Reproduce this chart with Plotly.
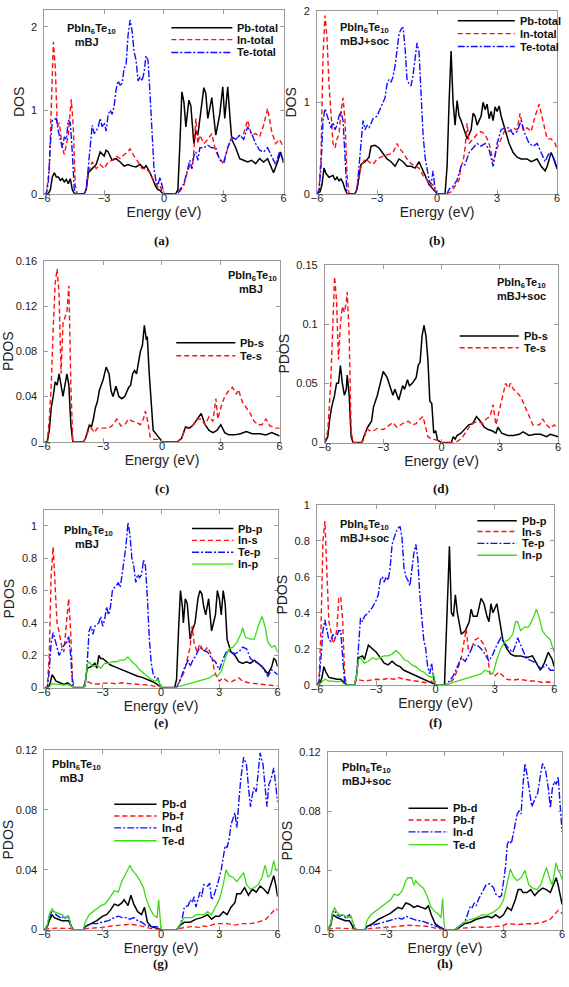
import plotly.graph_objects as go

W, H = 569, 987

# ---------------- data: (energy eV, DOS) pairs ----------------
# (a) mBJ total DOS
a_pb = [(-6,0),(-5.8,0),(-5.7,0.05),(-5.6,0.2),(-5.5,0.25),(-5.4,0.2),(-5.3,0.2),(-5.2,0.16),(-5.1,0.18),(-5.0,0.14),(-4.9,0.17),(-4.8,0.12),(-4.7,0.18),(-4.6,0.05),(-4.5,0),(-4.0,0),(-3.9,0.05),(-3.8,0.25),(-3.6,0.3),(-3.4,0.35),(-3.2,0.5),(-3.0,0.45),(-2.9,0.52),(-2.8,0.5),(-2.6,0.4),(-2.4,0.42),(-2.2,0.38),(-2.0,0.33),(-1.8,0.35),(-1.6,0.33),(-1.4,0.32),(-1.2,0.35),(-1.0,0.3),(-0.9,0.34),(-0.7,0.25),(-0.5,0.12),(-0.4,0.08),(-0.3,0.05),(-0.2,0.04),(-0.1,0.01),(0,0),(0.6,0),(0.7,0.05),(0.8,0.6),(0.9,1.22),(1.0,1.1),(1.1,0.8),(1.25,1.12),(1.35,1.05),(1.5,0.6),(1.6,0.75),(1.7,0.7),(1.9,1.05),(2.0,1.27),(2.1,1.2),(2.2,0.9),(2.4,1.15),(2.5,0.95),(2.6,0.7),(2.8,0.95),(2.95,1.28),(3.05,0.9),(3.2,1.28),(3.3,0.95),(3.4,0.65),(3.6,0.55),(3.8,0.42),(4.0,0.4),(4.2,0.38),(4.4,0.4),(4.6,0.36),(4.8,0.42),(5.0,0.38),(5.2,0.42),(5.4,0.3),(5.5,0.25),(5.7,0.38),(5.85,0.5),(6.0,0.37)]
a_in = [(-6,0),(-5.9,0),(-5.75,0.3),(-5.65,1.0),(-5.55,1.82),(-5.45,1.5),(-5.35,0.8),(-5.25,0.85),(-5.1,0.55),(-5.0,0.47),(-4.9,0.6),(-4.8,0.7),(-4.7,1.0),(-4.65,1.13),(-4.55,0.8),(-4.45,0.1),(-4.35,0),(-4.0,0),(-3.9,0.05),(-3.8,0.25),(-3.6,0.38),(-3.4,0.3),(-3.2,0.35),(-3.0,0.3),(-2.8,0.38),(-2.6,0.4),(-2.4,0.45),(-2.2,0.42),(-2.0,0.47),(-1.8,0.5),(-1.7,0.54),(-1.5,0.45),(-1.3,0.38),(-1.1,0.3),(-0.9,0.3),(-0.7,0.25),(-0.5,0.15),(-0.4,0.12),(-0.3,0.08),(-0.2,0.1),(-0.1,0.03),(0,0),(0.6,0),(0.8,0.03),(1.0,0.1),(1.1,0.2),(1.3,0.35),(1.4,0.3),(1.5,0.5),(1.6,0.9),(1.7,0.6),(1.8,0.7),(2.0,0.6),(2.2,0.65),(2.4,0.72),(2.6,0.5),(2.8,0.42),(3.0,0.35),(3.2,0.55),(3.4,0.67),(3.6,0.65),(3.8,0.7),(4.0,0.72),(4.2,0.88),(4.4,0.7),(4.6,0.72),(4.8,0.68),(5.0,0.82),(5.2,1.02),(5.4,0.75),(5.6,0.6),(5.8,0.65),(6.0,0.55)]
a_te = [(-6,0),(-5.9,0),(-5.8,0.15),(-5.7,0.6),(-5.6,0.88),(-5.4,0.9),(-5.3,0.75),(-5.1,0.55),(-5.0,0.68),(-4.9,0.65),(-4.8,0.88),(-4.7,0.85),(-4.6,0.5),(-4.5,0.05),(-4.4,0),(-4.0,0),(-3.9,0.05),(-3.8,0.3),(-3.7,0.6),(-3.6,0.82),(-3.5,0.72),(-3.4,0.75),(-3.3,0.8),(-3.2,0.9),(-3.1,0.8),(-3.0,0.85),(-2.9,0.75),(-2.8,0.95),(-2.7,1.0),(-2.6,0.95),(-2.5,1.05),(-2.4,1.25),(-2.3,1.35),(-2.2,1.3),(-2.1,1.32),(-2.0,1.5),(-1.9,1.55),(-1.8,1.9),(-1.7,2.08),(-1.6,1.95),(-1.5,1.7),(-1.4,1.6),(-1.3,1.35),(-1.2,1.4),(-1.1,1.35),(-1.0,1.45),(-0.9,1.65),(-0.8,1.6),(-0.7,1.2),(-0.6,0.65),(-0.5,0.3),(-0.4,0.15),(-0.3,0.1),(-0.2,0.2),(-0.1,0.08),(0,0),(0.7,0),(0.8,0.05),(1.0,0.12),(1.2,0.3),(1.3,0.4),(1.4,0.3),(1.5,0.45),(1.6,0.5),(1.7,0.4),(1.8,0.55),(2.0,0.55),(2.2,0.58),(2.4,0.55),(2.6,0.55),(2.8,0.4),(3.0,0.38),(3.2,0.55),(3.4,0.68),(3.6,0.65),(3.8,0.7),(4.0,0.65),(4.2,0.8),(4.4,0.72),(4.6,0.6),(4.8,0.52),(5.0,0.5),(5.2,0.55),(5.4,0.45),(5.6,0.35),(5.8,0.5),(6.0,0.4)]

# (b) mBJ+soc total DOS
b_pb = [(-6,0),(-5.85,0.02),(-5.75,0.1),(-5.65,0.28),(-5.55,0.22),(-5.4,0.18),(-5.2,0.2),(-5.1,0.15),(-5.0,0.18),(-4.9,0.14),(-4.8,0.16),(-4.7,0.12),(-4.6,0.05),(-4.5,0),(-4.1,0),(-4.0,0.05),(-3.8,0.32),(-3.6,0.35),(-3.4,0.4),(-3.3,0.52),(-3.1,0.53),(-2.9,0.5),(-2.7,0.44),(-2.5,0.38),(-2.3,0.35),(-2.1,0.3),(-1.9,0.38),(-1.7,0.35),(-1.5,0.3),(-1.3,0.3),(-1.1,0.28),(-0.9,0.35),(-0.8,0.3),(-0.6,0.2),(-0.4,0.1),(-0.2,0.05),(0,0),(0.4,0),(0.5,0.3),(0.6,1.0),(0.7,1.56),(0.8,1.0),(0.9,0.75),(1.0,1.02),(1.1,0.85),(1.2,0.8),(1.4,0.65),(1.5,0.6),(1.7,0.7),(1.8,0.88),(1.9,0.85),(2.0,0.75),(2.2,0.85),(2.3,1.0),(2.4,0.92),(2.5,0.98),(2.6,0.82),(2.7,0.9),(2.8,0.8),(2.9,0.95),(3.0,0.9),(3.1,0.96),(3.2,0.85),(3.4,0.7),(3.6,0.55),(3.8,0.45),(4.0,0.4),(4.2,0.38),(4.5,0.38),(4.7,0.35),(5.0,0.38),(5.2,0.3),(5.4,0.25),(5.5,0.3),(5.7,0.45),(5.8,0.4),(6.0,0.27)]
b_in = [(-6,0),(-5.9,0.05),(-5.8,0.4),(-5.7,1.5),(-5.6,1.95),(-5.5,1.7),(-5.4,1.2),(-5.3,0.8),(-5.2,0.55),(-5.1,0.5),(-5.0,0.6),(-4.9,0.65),(-4.8,0.9),(-4.7,1.05),(-4.6,0.8),(-4.5,0.2),(-4.4,0),(-4.1,0),(-4.0,0.05),(-3.8,0.3),(-3.6,0.38),(-3.4,0.35),(-3.2,0.32),(-3.0,0.38),(-2.8,0.4),(-2.6,0.42),(-2.4,0.43),(-2.2,0.45),(-2.0,0.55),(-1.9,0.5),(-1.7,0.45),(-1.5,0.38),(-1.3,0.33),(-1.1,0.3),(-0.9,0.28),(-0.7,0.2),(-0.5,0.15),(-0.3,0.08),(-0.2,0.1),(-0.1,0.03),(0,0),(0.5,0),(0.7,0.02),(0.9,0.08),(1.1,0.15),(1.2,0.3),(1.3,0.35),(1.4,0.5),(1.5,0.77),(1.6,0.55),(1.8,0.6),(2.0,0.65),(2.2,0.68),(2.4,0.65),(2.6,0.55),(2.8,0.35),(3.0,0.5),(3.2,0.6),(3.4,0.7),(3.6,0.68),(3.8,0.72),(4.0,0.7),(4.15,0.88),(4.3,0.7),(4.5,0.72),(4.7,0.68),(4.9,0.85),(5.1,0.98),(5.3,0.8),(5.5,0.6),(5.7,0.6),(5.9,0.55),(6.0,0.48)]
b_te = [(-6,0),(-5.9,0.02),(-5.8,0.3),(-5.7,0.8),(-5.6,0.93),(-5.5,0.85),(-5.3,0.72),(-5.2,0.78),(-5.1,0.7),(-5.0,0.75),(-4.9,0.85),(-4.8,0.9),(-4.7,0.8),(-4.6,0.4),(-4.5,0),(-4.1,0),(-4.0,0.05),(-3.9,0.3),(-3.8,0.6),(-3.7,0.8),(-3.6,0.7),(-3.5,0.75),(-3.4,0.72),(-3.2,0.82),(-3.0,0.85),(-2.8,0.95),(-2.6,1.05),(-2.5,1.2),(-2.4,1.25),(-2.3,1.22),(-2.2,1.28),(-2.1,1.4),(-2.0,1.6),(-1.9,1.75),(-1.8,1.8),(-1.7,1.82),(-1.6,1.6),(-1.5,1.25),(-1.4,1.2),(-1.3,1.18),(-1.2,1.3),(-1.1,1.45),(-1.0,1.65),(-0.9,1.55),(-0.8,1.1),(-0.7,0.65),(-0.6,0.4),(-0.5,0.25),(-0.4,0.15),(-0.3,0.1),(-0.2,0.25),(-0.1,0.05),(0,0),(0.5,0),(0.6,0.05),(0.8,0.08),(1.0,0.15),(1.2,0.3),(1.4,0.32),(1.6,0.45),(1.8,0.5),(2.0,0.55),(2.2,0.52),(2.4,0.55),(2.6,0.48),(2.8,0.3),(3.0,0.55),(3.2,0.7),(3.4,0.72),(3.6,0.72),(3.8,0.65),(4.0,0.68),(4.2,0.8),(4.4,0.65),(4.6,0.55),(4.8,0.52),(5.0,0.55),(5.2,0.45),(5.4,0.35),(5.6,0.45),(5.8,0.4),(6.0,0.3)]

# (c) mBJ s-PDOS
c_pbs = [(-6,0),(-5.85,0),(-5.75,0.01),(-5.65,0.03),(-5.55,0.04),(-5.45,0.053),(-5.35,0.05),(-5.25,0.06),(-5.15,0.05),(-5.05,0.04),(-4.95,0.05),(-4.85,0.06),(-4.75,0.05),(-4.65,0.015),(-4.55,0),(-4.0,0),(-3.9,0.003),(-3.8,0.01),(-3.7,0.015),(-3.6,0.013),(-3.5,0.02),(-3.4,0.03),(-3.3,0.035),(-3.2,0.045),(-3.0,0.055),(-2.85,0.066),(-2.7,0.06),(-2.6,0.045),(-2.5,0.04),(-2.35,0.049),(-2.2,0.04),(-2.05,0.038),(-1.9,0.04),(-1.7,0.048),(-1.6,0.05),(-1.5,0.06),(-1.4,0.063),(-1.3,0.06),(-1.2,0.07),(-1.1,0.08),(-1.0,0.085),(-0.9,0.103),(-0.8,0.09),(-0.75,0.093),(-0.65,0.06),(-0.55,0.035),(-0.45,0.01),(-0.35,0.008),(-0.2,0.005),(0,0),(0.8,0),(1.0,0.003),(1.2,0.013),(1.4,0.012),(1.6,0.015),(1.8,0.02),(2.0,0.025),(2.2,0.015),(2.4,0.01),(2.6,0.008),(2.8,0.01),(3.0,0.015),(3.2,0.008),(3.4,0.006),(3.7,0.006),(4.0,0.007),(4.3,0.009),(4.6,0.007),(5.0,0.007),(5.3,0.006),(5.6,0.008),(6.0,0.005)]
c_tes = [(-6,0),(-5.85,0),(-5.75,0.02),(-5.65,0.05),(-5.55,0.1),(-5.45,0.14),(-5.35,0.153),(-5.25,0.13),(-5.15,0.06),(-5.05,0.105),(-4.95,0.11),(-4.85,0.115),(-4.75,0.138),(-4.65,0.05),(-4.55,0),(-4.0,0),(-3.9,0.003),(-3.75,0.01),(-3.6,0.012),(-3.45,0.008),(-3.3,0.012),(-3.0,0.012),(-2.7,0.012),(-2.5,0.015),(-2.3,0.02),(-2.1,0.014),(-1.9,0.015),(-1.7,0.02),(-1.5,0.018),(-1.3,0.017),(-1.1,0.015),(-0.95,0.02),(-0.85,0.027),(-0.75,0.02),(-0.6,0.004),(-0.4,0.002),(-0.2,0.002),(0,0),(0.8,0),(1.0,0.003),(1.2,0.012),(1.4,0.012),(1.6,0.015),(1.8,0.02),(2.0,0.02),(2.2,0.015),(2.4,0.022),(2.6,0.018),(2.75,0.038),(2.85,0.02),(3.0,0.03),(3.2,0.04),(3.4,0.045),(3.6,0.048),(3.8,0.042),(3.9,0.046),(4.1,0.035),(4.3,0.03),(4.5,0.025),(4.7,0.018),(4.9,0.015),(5.1,0.015),(5.3,0.02),(5.5,0.014),(5.8,0.012),(6.0,0.012)]

# (d) mBJ+soc s-PDOS
d_pbs = [(-6,0),(-5.85,0.005),(-5.75,0.02),(-5.65,0.03),(-5.5,0.04),(-5.4,0.05),(-5.3,0.05),(-5.2,0.065),(-5.1,0.05),(-5.0,0.04),(-4.9,0.045),(-4.85,0.057),(-4.75,0.04),(-4.65,0.005),(-4.55,0),(-4.1,0),(-4.0,0.005),(-3.8,0.013),(-3.6,0.018),(-3.5,0.03),(-3.3,0.04),(-3.1,0.055),(-3.0,0.06),(-2.8,0.055),(-2.6,0.045),(-2.5,0.04),(-2.4,0.045),(-2.2,0.036),(-2.0,0.048),(-1.9,0.045),(-1.75,0.053),(-1.65,0.048),(-1.5,0.05),(-1.3,0.055),(-1.2,0.065),(-1.1,0.068),(-1.0,0.09),(-0.9,0.099),(-0.8,0.09),(-0.7,0.07),(-0.6,0.035),(-0.5,0.033),(-0.4,0.008),(-0.3,0.01),(-0.2,0.002),(0,0),(0.5,0),(0.6,0.005),(0.7,0.003),(0.8,0.006),(1.0,0.008),(1.2,0.012),(1.4,0.015),(1.6,0.016),(1.8,0.022),(2.0,0.018),(2.2,0.013),(2.4,0.011),(2.6,0.01),(2.8,0.008),(2.9,0.013),(3.1,0.008),(3.4,0.006),(3.7,0.006),(4.0,0.007),(4.2,0.009),(4.5,0.006),(4.8,0.007),(5.1,0.007),(5.4,0.005),(5.6,0.007),(6.0,0.005)]
d_tes = [(-6,0),(-5.85,0.01),(-5.7,0.05),(-5.6,0.1),(-5.5,0.14),(-5.4,0.12),(-5.3,0.07),(-5.2,0.1),(-5.1,0.115),(-5.0,0.11),(-4.9,0.118),(-4.85,0.127),(-4.75,0.09),(-4.65,0.01),(-4.55,0),(-4.1,0),(-4.0,0.003),(-3.85,0.012),(-3.7,0.01),(-3.5,0.01),(-3.3,0.012),(-3.0,0.011),(-2.7,0.015),(-2.5,0.017),(-2.3,0.013),(-2.1,0.015),(-1.9,0.017),(-1.7,0.018),(-1.5,0.015),(-1.3,0.016),(-1.1,0.02),(-0.95,0.022),(-0.85,0.015),(-0.7,0.005),(-0.5,0.003),(-0.2,0.002),(0,0),(0.7,0),(0.9,0.002),(1.1,0.005),(1.3,0.01),(1.5,0.015),(1.7,0.017),(1.9,0.018),(2.1,0.016),(2.3,0.02),(2.5,0.022),(2.65,0.032),(2.8,0.015),(3.0,0.03),(3.2,0.045),(3.3,0.05),(3.45,0.046),(3.55,0.05),(3.7,0.045),(3.9,0.042),(4.1,0.038),(4.3,0.03),(4.5,0.022),(4.7,0.015),(4.9,0.015),(5.05,0.015),(5.2,0.02),(5.4,0.015),(5.6,0.012),(5.8,0.015),(6.0,0.012)]

# (e) mBJ p-PDOS
e_pbp = [(-6,0),(-5.8,0),(-5.7,0.03),(-5.6,0.08),(-5.5,0.06),(-5.4,0.04),(-5.2,0.03),(-5.0,0.02),(-4.8,0.03),(-4.7,0.02),(-4.6,0.005),(-4.5,0),(-4.0,0),(-3.9,0.03),(-3.8,0.12),(-3.6,0.13),(-3.4,0.15),(-3.3,0.12),(-3.2,0.2),(-3.1,0.18),(-3.0,0.18),(-2.8,0.16),(-2.6,0.14),(-2.4,0.13),(-2.2,0.12),(-2.0,0.11),(-1.8,0.1),(-1.6,0.09),(-1.4,0.08),(-1.2,0.07),(-1.0,0.065),(-0.8,0.055),(-0.6,0.05),(-0.4,0.035),(-0.2,0.02),(-0.1,0.01),(0,0),(0.7,0),(0.8,0.05),(0.9,0.35),(1.0,0.6),(1.1,0.5),(1.15,0.4),(1.25,0.55),(1.35,0.52),(1.5,0.3),(1.6,0.35),(1.75,0.4),(1.9,0.55),(2.0,0.6),(2.1,0.58),(2.2,0.5),(2.3,0.45),(2.45,0.55),(2.6,0.35),(2.7,0.4),(2.8,0.45),(2.9,0.6),(3.0,0.55),(3.1,0.45),(3.2,0.6),(3.3,0.52),(3.4,0.3),(3.6,0.22),(3.8,0.2),(4.0,0.16),(4.2,0.15),(4.4,0.16),(4.6,0.15),(4.8,0.17),(5.0,0.15),(5.2,0.13),(5.4,0.1),(5.5,0.085),(5.7,0.13),(5.8,0.18),(5.9,0.17),(6.0,0.13)]
e_ins = [(-6,0),(-5.85,0),(-5.75,0.2),(-5.65,0.7),(-5.55,0.87),(-5.45,0.6),(-5.35,0.4),(-5.25,0.35),(-5.1,0.25),(-5.0,0.22),(-4.9,0.35),(-4.8,0.48),(-4.75,0.55),(-4.65,0.35),(-4.55,0.05),(-4.45,0),(-4.0,0),(-3.9,0.01),(-3.75,0.035),(-3.5,0.022),(-3.2,0.022),(-3.0,0.028),(-2.6,0.028),(-2.3,0.023),(-2.0,0.03),(-1.7,0.025),(-1.3,0.022),(-1.0,0.02),(-0.6,0.015),(-0.3,0.008),(-0.15,0.015),(0,0),(0.8,0),(1.0,0.05),(1.2,0.1),(1.3,0.15),(1.4,0.2),(1.5,0.25),(1.6,0.38),(1.7,0.28),(1.85,0.22),(2.0,0.27),(2.2,0.22),(2.4,0.25),(2.6,0.2),(2.75,0.1),(2.9,0.06),(3.0,0.04),(3.2,0.06),(3.4,0.04),(3.6,0.035),(3.8,0.05),(4.0,0.06),(4.2,0.04),(4.5,0.03),(4.8,0.025),(5.1,0.022),(5.4,0.015),(5.7,0.012),(6.0,0.01)]
e_tep = [(-6,0),(-5.85,0),(-5.75,0.1),(-5.65,0.28),(-5.55,0.34),(-5.45,0.3),(-5.35,0.25),(-5.25,0.2),(-5.15,0.22),(-5.05,0.25),(-4.95,0.27),(-4.85,0.28),(-4.75,0.32),(-4.65,0.2),(-4.55,0.02),(-4.45,0),(-4.0,0),(-3.9,0.02),(-3.8,0.15),(-3.7,0.35),(-3.6,0.38),(-3.5,0.33),(-3.4,0.38),(-3.2,0.4),(-3.1,0.44),(-3.0,0.38),(-2.9,0.42),(-2.8,0.5),(-2.7,0.45),(-2.6,0.5),(-2.5,0.6),(-2.4,0.62),(-2.3,0.63),(-2.2,0.65),(-2.1,0.62),(-2.0,0.7),(-1.9,0.8),(-1.8,0.88),(-1.7,1.02),(-1.6,0.95),(-1.5,0.8),(-1.4,0.75),(-1.3,0.65),(-1.2,0.7),(-1.1,0.68),(-1.0,0.7),(-0.9,0.79),(-0.8,0.75),(-0.7,0.55),(-0.6,0.3),(-0.5,0.15),(-0.4,0.08),(-0.3,0.06),(-0.2,0.05),(-0.15,0.06),(-0.1,0.03),(0,0),(0.8,0),(1.0,0.05),(1.2,0.12),(1.4,0.17),(1.5,0.13),(1.6,0.16),(1.8,0.2),(2.0,0.25),(2.2,0.23),(2.4,0.22),(2.6,0.18),(2.8,0.16),(3.0,0.11),(3.2,0.18),(3.4,0.23),(3.6,0.22),(3.8,0.21),(4.0,0.22),(4.2,0.25),(4.4,0.24),(4.6,0.18),(4.8,0.16),(5.0,0.15),(5.2,0.13),(5.4,0.09),(5.5,0.07),(5.7,0.11),(5.9,0.09),(6.0,0.08)]
e_inp = [(-6,0),(-5.8,0),(-5.7,0.01),(-5.6,0.025),(-5.4,0.02),(-5.2,0.02),(-5.0,0.015),(-4.8,0.02),(-4.7,0.015),(-4.6,0.005),(-4.5,0),(-4.0,0),(-3.9,0.02),(-3.8,0.14),(-3.7,0.16),(-3.5,0.13),(-3.3,0.14),(-3.1,0.12),(-2.9,0.15),(-2.7,0.15),(-2.5,0.16),(-2.3,0.16),(-2.1,0.17),(-1.9,0.17),(-1.7,0.19),(-1.5,0.16),(-1.3,0.14),(-1.1,0.11),(-0.9,0.09),(-0.7,0.07),(-0.5,0.05),(-0.3,0.04),(-0.15,0.05),(0,0),(0.8,0),(1.0,0.01),(1.3,0.02),(1.6,0.03),(1.9,0.04),(2.2,0.05),(2.5,0.06),(2.7,0.08),(2.9,0.07),(3.1,0.1),(3.3,0.18),(3.5,0.24),(3.7,0.25),(3.9,0.28),(4.1,0.33),(4.2,0.37),(4.35,0.31),(4.6,0.3),(4.8,0.3),(5.0,0.38),(5.2,0.44),(5.35,0.38),(5.5,0.28),(5.7,0.25),(5.85,0.26),(6.0,0.22)]

# (f) mBJ+soc p-PDOS
f_pbp = [(-6,0),(-5.85,0.005),(-5.75,0.04),(-5.65,0.1),(-5.55,0.07),(-5.4,0.04),(-5.2,0.035),(-5.0,0.03),(-4.8,0.03),(-4.7,0.02),(-4.6,0.005),(-4.5,0),(-4.1,0),(-4.0,0.05),(-3.9,0.15),(-3.7,0.16),(-3.6,0.14),(-3.4,0.22),(-3.2,0.2),(-3.0,0.18),(-2.8,0.15),(-2.6,0.12),(-2.4,0.11),(-2.2,0.13),(-2.0,0.11),(-1.8,0.1),(-1.6,0.08),(-1.4,0.07),(-1.2,0.06),(-1.0,0.05),(-0.8,0.04),(-0.6,0.03),(-0.4,0.02),(-0.2,0.01),(0,0),(0.45,0),(0.55,0.3),(0.65,0.6),(0.7,0.77),(0.8,0.4),(0.9,0.38),(1.0,0.5),(1.1,0.4),(1.3,0.28),(1.5,0.3),(1.7,0.35),(1.8,0.42),(1.9,0.38),(2.1,0.38),(2.3,0.48),(2.45,0.45),(2.6,0.38),(2.7,0.35),(2.8,0.45),(2.9,0.4),(3.1,0.45),(3.25,0.35),(3.4,0.25),(3.6,0.2),(3.8,0.17),(4.0,0.16),(4.3,0.16),(4.6,0.15),(4.9,0.16),(5.1,0.12),(5.3,0.08),(5.5,0.12),(5.7,0.18),(5.9,0.14),(6.0,0.1)]
f_ins = [(-6,0),(-5.9,0.02),(-5.8,0.3),(-5.7,0.8),(-5.6,0.91),(-5.5,0.6),(-5.4,0.35),(-5.3,0.3),(-5.2,0.23),(-5.1,0.25),(-5.0,0.3),(-4.9,0.48),(-4.8,0.49),(-4.7,0.35),(-4.6,0.05),(-4.5,0),(-4.1,0),(-4.0,0.03),(-3.8,0.025),(-3.6,0.02),(-3.3,0.025),(-3.0,0.03),(-2.7,0.028),(-2.4,0.035),(-2.1,0.03),(-1.9,0.04),(-1.6,0.03),(-1.3,0.025),(-1.0,0.02),(-0.7,0.015),(-0.4,0.01),(-0.2,0.02),(-0.1,0.005),(0,0),(0.6,0),(0.9,0.03),(1.1,0.08),(1.3,0.15),(1.45,0.25),(1.55,0.31),(1.65,0.2),(1.8,0.2),(2.0,0.25),(2.2,0.26),(2.4,0.23),(2.6,0.18),(2.75,0.06),(3.0,0.05),(3.2,0.07),(3.4,0.05),(3.6,0.03),(3.9,0.025),(4.2,0.03),(4.5,0.025),(4.8,0.02),(5.1,0.02),(5.4,0.012),(5.7,0.015),(6.0,0.01)]
f_tep = [(-6,0),(-5.9,0.01),(-5.8,0.15),(-5.7,0.3),(-5.6,0.36),(-5.5,0.3),(-5.4,0.25),(-5.3,0.24),(-5.2,0.28),(-5.1,0.26),(-5.0,0.27),(-4.9,0.3),(-4.8,0.3),(-4.7,0.15),(-4.6,0.01),(-4.5,0),(-4.1,0),(-4.0,0.05),(-3.9,0.2),(-3.8,0.37),(-3.7,0.35),(-3.6,0.38),(-3.4,0.4),(-3.2,0.43),(-3.0,0.47),(-2.9,0.5),(-2.8,0.58),(-2.7,0.6),(-2.6,0.57),(-2.5,0.6),(-2.4,0.58),(-2.3,0.65),(-2.2,0.78),(-2.1,0.82),(-2.0,0.85),(-1.9,0.87),(-1.8,0.88),(-1.7,0.82),(-1.6,0.65),(-1.5,0.6),(-1.4,0.58),(-1.3,0.55),(-1.2,0.65),(-1.1,0.73),(-1.0,0.78),(-0.9,0.7),(-0.8,0.5),(-0.7,0.35),(-0.6,0.25),(-0.5,0.2),(-0.4,0.1),(-0.3,0.06),(-0.2,0.12),(-0.1,0.03),(0,0),(0.5,0),(0.7,0.02),(0.9,0.05),(1.1,0.1),(1.3,0.15),(1.5,0.13),(1.7,0.17),(1.9,0.22),(2.1,0.22),(2.3,0.2),(2.5,0.17),(2.7,0.13),(2.9,0.17),(3.1,0.22),(3.3,0.26),(3.5,0.23),(3.7,0.2),(3.9,0.18),(4.05,0.22),(4.15,0.26),(4.3,0.22),(4.5,0.17),(4.7,0.14),(4.9,0.13),(5.1,0.12),(5.3,0.09),(5.5,0.1),(5.6,0.11),(5.8,0.08),(6.0,0.08)]
f_inp = [(-6,0),(-5.85,0.005),(-5.7,0.02),(-5.6,0.03),(-5.4,0.02),(-5.2,0.02),(-5.0,0.015),(-4.8,0.02),(-4.7,0.01),(-4.6,0),(-4.1,0),(-4.0,0.05),(-3.9,0.14),(-3.8,0.15),(-3.6,0.12),(-3.4,0.13),(-3.2,0.15),(-3.0,0.14),(-2.8,0.15),(-2.6,0.16),(-2.4,0.16),(-2.2,0.17),(-2.0,0.19),(-1.8,0.17),(-1.6,0.14),(-1.4,0.13),(-1.2,0.11),(-1.0,0.1),(-0.8,0.08),(-0.6,0.07),(-0.4,0.05),(-0.2,0.04),(-0.1,0.06),(0,0),(0.6,0),(0.8,0.01),(1.1,0.02),(1.4,0.03),(1.7,0.04),(2.0,0.05),(2.3,0.06),(2.5,0.08),(2.7,0.07),(2.9,0.06),(3.1,0.14),(3.3,0.2),(3.5,0.24),(3.7,0.25),(3.9,0.28),(4.05,0.35),(4.15,0.35),(4.3,0.3),(4.5,0.32),(4.7,0.32),(4.9,0.36),(5.1,0.42),(5.25,0.37),(5.4,0.3),(5.6,0.27),(5.8,0.25),(6.0,0.18)]

# (g) mBJ d/f-PDOS
g_pbd = [(-6,0),(-5.85,0.002),(-5.75,0.006),(-5.6,0.01),(-5.5,0.008),(-5.3,0.007),(-5.1,0.006),(-4.9,0.006),(-4.75,0.006),(-4.65,0.003),(-4.55,0),(-4.0,0),(-3.9,0.002),(-3.6,0.004),(-3.3,0.006),(-3.0,0.009),(-2.8,0.01),(-2.6,0.013),(-2.4,0.017),(-2.2,0.016),(-2.0,0.018),(-1.9,0.02),(-1.7,0.016),(-1.55,0.023),(-1.4,0.017),(-1.2,0.012),(-1.0,0.01),(-0.85,0.015),(-0.7,0.005),(-0.5,0.002),(-0.2,0.001),(0,0),(0.8,0),(1.0,0.003),(1.2,0.005),(1.5,0.005),(1.8,0.007),(2.1,0.008),(2.4,0.01),(2.6,0.007),(2.8,0.009),(3.0,0.009),(3.2,0.012),(3.4,0.01),(3.6,0.015),(3.8,0.018),(3.9,0.024),(4.1,0.024),(4.3,0.028),(4.5,0.023),(4.7,0.027),(4.9,0.025),(5.1,0.029),(5.3,0.027),(5.5,0.024),(5.7,0.033),(5.8,0.036),(5.9,0.03),(6.0,0.022)]
g_pbf = [(-6,0),(-5.7,0.0008),(-5.4,0.001),(-5.0,0.0008),(-4.7,0.0008),(-4.5,0),(-4.0,0),(-3.8,0.0008),(-3.5,0.001),(-3.0,0.0015),(-2.5,0.0025),(-2.0,0.003),(-1.6,0.0035),(-1.2,0.003),(-0.9,0.002),(-0.6,0.001),(0,0),(0.8,0),(1.2,0.0015),(1.6,0.002),(2.0,0.0015),(2.2,0.0025),(2.4,0.002),(2.7,0.0035),(3.0,0.004),(3.4,0.004),(3.8,0.003),(4.2,0.004),(4.6,0.004),(5.0,0.005),(5.4,0.007),(5.7,0.011),(5.9,0.014),(6.0,0.013)]
g_ind = [(-6,0),(-5.85,0.003),(-5.75,0.008),(-5.6,0.013),(-5.5,0.012),(-5.4,0.01),(-5.2,0.008),(-5.1,0.009),(-5.0,0.007),(-4.9,0.008),(-4.8,0.009),(-4.7,0.007),(-4.6,0.002),(-4.5,0),(-4.0,0),(-3.9,0.002),(-3.6,0.004),(-3.3,0.004),(-3.0,0.005),(-2.7,0.006),(-2.4,0.008),(-2.2,0.009),(-2.0,0.008),(-1.8,0.008),(-1.6,0.007),(-1.4,0.008),(-1.2,0.006),(-1.0,0.005),(-0.8,0.003),(-0.5,0.002),(-0.2,0.002),(0,0),(0.8,0),(1.0,0.003),(1.1,0.008),(1.2,0.015),(1.4,0.016),(1.5,0.02),(1.6,0.018),(1.7,0.022),(1.8,0.015),(1.9,0.02),(2.0,0.025),(2.1,0.022),(2.2,0.03),(2.4,0.029),(2.5,0.031),(2.6,0.02),(2.7,0.022),(2.9,0.03),(3.1,0.04),(3.3,0.056),(3.4,0.055),(3.5,0.06),(3.6,0.07),(3.8,0.078),(3.9,0.068),(4.0,0.085),(4.1,0.1),(4.25,0.115),(4.4,0.11),(4.5,0.095),(4.6,0.082),(4.7,0.09),(4.8,0.095),(4.9,0.092),(5.0,0.108),(5.1,0.118),(5.25,0.11),(5.35,0.095),(5.45,0.082),(5.55,0.097),(5.65,0.1),(5.8,0.108),(5.9,0.095),(6.0,0.085)]
g_ted = [(-6,0),(-5.85,0.003),(-5.75,0.01),(-5.6,0.014),(-5.5,0.012),(-5.3,0.011),(-5.1,0.01),(-4.9,0.008),(-4.75,0.009),(-4.65,0.003),(-4.55,0),(-4.0,0),(-3.9,0.005),(-3.7,0.01),(-3.5,0.012),(-3.3,0.014),(-3.1,0.016),(-2.9,0.017),(-2.7,0.02),(-2.5,0.024),(-2.4,0.026),(-2.2,0.025),(-2.0,0.033),(-1.9,0.035),(-1.7,0.04),(-1.6,0.043),(-1.5,0.04),(-1.3,0.037),(-1.1,0.033),(-0.9,0.028),(-0.8,0.022),(-0.6,0.015),(-0.4,0.01),(-0.2,0.008),(-0.12,0.02),(-0.05,0.005),(0,0),(0.8,0),(1.0,0.004),(1.2,0.008),(1.4,0.008),(1.6,0.008),(1.8,0.01),(2.0,0.01),(2.2,0.01),(2.4,0.012),(2.6,0.01),(2.8,0.015),(3.0,0.02),(3.2,0.03),(3.35,0.04),(3.5,0.036),(3.7,0.035),(3.9,0.032),(4.1,0.035),(4.25,0.038),(4.4,0.03),(4.6,0.027),(4.8,0.028),(5.0,0.03),(5.2,0.035),(5.35,0.043),(5.5,0.035),(5.65,0.037),(5.8,0.046),(5.9,0.04),(6.0,0.039)]

# (h) mBJ+soc d/f-PDOS
h_pbd = [(-6,0),(-5.85,0.003),(-5.75,0.01),(-5.65,0.009),(-5.5,0.008),(-5.3,0.007),(-5.1,0.006),(-4.9,0.006),(-4.8,0.004),(-4.7,0.001),(-4.5,0),(-4.1,0),(-4.0,0.002),(-3.7,0.004),(-3.4,0.007),(-3.1,0.009),(-2.8,0.011),(-2.6,0.013),(-2.4,0.015),(-2.2,0.014),(-2.0,0.018),(-1.8,0.017),(-1.6,0.015),(-1.4,0.016),(-1.2,0.015),(-1.0,0.014),(-0.85,0.016),(-0.7,0.01),(-0.5,0.004),(-0.3,0.002),(0,0),(0.5,0),(0.8,0.002),(1.0,0.004),(1.3,0.005),(1.6,0.007),(1.9,0.008),(2.2,0.009),(2.4,0.008),(2.6,0.01),(2.8,0.008),(3.0,0.01),(3.2,0.015),(3.4,0.013),(3.6,0.02),(3.75,0.027),(3.9,0.027),(4.0,0.025),(4.2,0.025),(4.4,0.027),(4.6,0.023),(4.8,0.026),(5.0,0.028),(5.2,0.027),(5.4,0.025),(5.6,0.032),(5.7,0.035),(5.8,0.03),(5.9,0.022),(6.0,0.017)]
h_pbf = [(-6,0),(-5.7,0.001),(-5.4,0.001),(-5.0,0.001),(-4.7,0.0005),(-4.5,0),(-4.1,0),(-3.8,0.0008),(-3.5,0.001),(-3.0,0.0015),(-2.5,0.002),(-2.0,0.003),(-1.6,0.003),(-1.2,0.0025),(-0.8,0.002),(-0.5,0.001),(0,0),(0.5,0),(0.9,0.001),(1.3,0.0015),(1.7,0.0018),(2.1,0.0015),(2.5,0.002),(2.9,0.0025),(3.2,0.004),(3.5,0.0035),(3.8,0.0035),(4.2,0.004),(4.6,0.004),(5.0,0.005),(5.4,0.007),(5.6,0.01),(5.8,0.013),(6.0,0.011)]
h_ind = [(-6,0),(-5.85,0.004),(-5.75,0.012),(-5.65,0.013),(-5.55,0.01),(-5.4,0.009),(-5.2,0.01),(-5.1,0.008),(-5.0,0.009),(-4.9,0.01),(-4.8,0.008),(-4.7,0.003),(-4.6,0),(-4.1,0),(-4.0,0.002),(-3.7,0.003),(-3.4,0.004),(-3.1,0.005),(-2.8,0.006),(-2.6,0.007),(-2.4,0.008),(-2.2,0.007),(-2.0,0.009),(-1.8,0.008),(-1.6,0.007),(-1.4,0.006),(-1.2,0.006),(-1.0,0.005),(-0.8,0.004),(-0.5,0.002),(-0.3,0.001),(0,0),(0.5,0),(0.8,0.003),(1.0,0.005),(1.1,0.008),(1.3,0.016),(1.4,0.015),(1.5,0.018),(1.6,0.016),(1.7,0.02),(1.9,0.025),(2.1,0.03),(2.3,0.031),(2.5,0.028),(2.6,0.024),(2.8,0.022),(2.9,0.023),(3.0,0.032),(3.1,0.042),(3.2,0.058),(3.3,0.06),(3.4,0.058),(3.6,0.07),(3.7,0.078),(3.8,0.08),(3.9,0.078),(4.0,0.098),(4.1,0.112),(4.2,0.105),(4.35,0.09),(4.45,0.083),(4.6,0.088),(4.75,0.092),(4.9,0.105),(5.0,0.112),(5.15,0.108),(5.3,0.095),(5.4,0.082),(5.5,0.095),(5.6,0.1),(5.7,0.098),(5.8,0.103),(5.9,0.085),(6.0,0.066)]
h_ted = [(-6,0),(-5.85,0.004),(-5.75,0.012),(-5.65,0.015),(-5.55,0.012),(-5.4,0.01),(-5.2,0.01),(-5.0,0.008),(-4.8,0.009),(-4.7,0.004),(-4.6,0),(-4.1,0),(-4.0,0.006),(-3.8,0.01),(-3.6,0.012),(-3.4,0.014),(-3.2,0.016),(-3.0,0.018),(-2.8,0.02),(-2.6,0.024),(-2.4,0.023),(-2.2,0.026),(-2.0,0.033),(-1.9,0.035),(-1.7,0.035),(-1.6,0.03),(-1.5,0.033),(-1.3,0.03),(-1.1,0.028),(-0.9,0.022),(-0.7,0.015),(-0.5,0.012),(-0.3,0.01),(-0.2,0.008),(-0.12,0.021),(-0.05,0.005),(0,0),(0.5,0),(0.8,0.003),(1.0,0.005),(1.3,0.007),(1.6,0.008),(1.9,0.01),(2.2,0.01),(2.5,0.012),(2.8,0.015),(3.0,0.02),(3.2,0.033),(3.35,0.041),(3.5,0.036),(3.7,0.033),(3.9,0.035),(4.1,0.04),(4.3,0.03),(4.5,0.028),(4.7,0.027),(4.9,0.03),(5.1,0.038),(5.2,0.042),(5.35,0.035),(5.5,0.03),(5.6,0.038),(5.7,0.045),(5.8,0.04),(5.9,0.038),(6.0,0.034)]

x_ticks = [-6, -3, 0, 3, 6]
panel_letters = ["(a)", "(b)", "(c)", "(d)", "(e)", "(f)", "(g)", "(h)"]
compound = "PbIn<sub>6</sub>Te<sub>10</sub>"

# ---------------- styles ----------------
FONT = "Liberation Sans, Arial, sans-serif"
STY = {
    "k": dict(color="#000000", width=1.5, dash="solid"),
    "r": dict(color="#ff1010", width=1.4, dash="5px,3px"),
    "b": dict(color="#1010ff", width=1.4, dash="7px,2px,2px,2px"),
    "g": dict(color="#3cdc14", width=1.3, dash="solid"),
}
EN, TH = "\u2002", "\u2009"

# panel layout (pixel boxes), y range, ticks, titles, legends, labels
panels = [
    dict(box=(39, 4, 282, 190), yr=2.2, dt=1, yt="DOS",
         series=[(a_pb, "Pb-total", "k"), (a_in, "In-total", "r"), (a_te, "Te-total", "b")],
         leg=(168, 230, [22, 34, 47]), comp=(60, 29.5, EN + TH, "mBJ"), lab=(158, 237)),
    dict(box=(316, 5, 560, 190), yr=2.0, dt=1, yt="DOS",
         series=[(b_pb, "Pb-total", "k"), (b_in, "In-total", "r"), (b_te, "Te-total", "b")],
         leg=(459, 517, [15, 28, 41]), comp=(337, 28.5, "", "mBJ+soc"), lab=(438, 237)),
    dict(box=(39, 258, 278, 441), yr=0.16, dt=0.04, yt="PDOS",
         series=[(c_pbs, "Pb-s", "k"), (c_tes, "Te-s", "r")],
         leg=(173, 233, [341, 354]), comp=(224, 279.5, EN + EN, "mBJ"), lab=(158, 488)),
    dict(box=(324, 262, 561, 442), yr=0.15, dt=0.05, yt="PDOS",
         series=[(d_pbs, "Pb-s", "k"), (d_tes, "Te-s", "r")],
         leg=(461, 521, [334, 346]), comp=(497, 286.5, "", "mBJ+soc"), lab=(442, 488)),
    dict(box=(39, 510, 276, 690), yr=1.1, dt=0.2, yt="PDOS",
         series=[(e_pbp, "Pb-p", "k"), (e_ins, "In-s", "r"), (e_tep, "Te-p", "b"), (e_inp, "In-p", "g")],
         leg=(189, 231, [529, 541, 553, 565]), comp=(57, 538, EN + EN, "mBJ"), lab=(157, 725)),
    dict(box=(316, 505, 557, 687), yr=1.0, dt=0.2, yt="PDOS",
         series=[(f_pbp, "Pb-p", "k"), (f_ins, "In-s", "r"), (f_tep, "Te-p", "b"), (f_inp, "In-p", "g")],
         leg=(479, 519, [521, 532, 544, 556]), comp=(337, 531, "", "mBJ+soc"), lab=(436, 725)),
    dict(box=(39, 753, 276, 935), yr=0.12, dt=0.04, yt="PDOS",
         series=[(g_pbd, "Pb-d", "k"), (g_pbf, "Pb-f", "r"), (g_ind, "In-d", "b"), (g_ted, "Te-d", "g")],
         leg=(110, 153, [808, 820, 832, 845]), comp=(45, 774.5, EN + TH, "mBJ"), lab=(157, 969)),
    dict(box=(327, 755, 565, 935), yr=0.12, dt=0.04, yt="PDOS",
         series=[(h_pbd, "Pb-d", "k"), (h_pbf, "Pb-f", "r"), (h_ind, "In-d", "b"), (h_ted, "Te-d", "g")],
         leg=(409, 449, [812, 824, 836, 849]), comp=(339, 777.5, "", "mBJ+soc"), lab=(446, 969)),
]

def fx(px):
    return px / W

def fy(py):
    return 1 - py / H

fig = go.Figure()
shapes, annotations = [], []
layout = dict(width=W, height=H, margin=dict(l=0, r=0, t=0, b=0),
              paper_bgcolor="white", plot_bgcolor="white", showlegend=False,
              font=dict(family=FONT, size=11, color="#222"))

for i, p in enumerate(panels):
    n = i + 1
    xa = "x" if n == 1 else f"x{n}"
    ya = "y" if n == 1 else f"y{n}"
    x0, y0, x1, y1 = p["box"]
    for data, name, st in p["series"]:
        fig.add_trace(go.Scatter(x=[d[0] for d in data], y=[d[1] for d in data],
                                 mode="lines", name=name, line=STY[st],
                                 xaxis=xa, yaxis=ya))
    axcommon = dict(showline=True, mirror="ticks", linecolor="#9a9a9a", linewidth=1,
                    ticks="inside", ticklen=4, tickcolor="#9a9a9a", showgrid=False,
                    zeroline=False, tickfont=dict(family=FONT, size=11, color="#222"))
    layout["xaxis" if n == 1 else f"xaxis{n}"] = dict(
        axcommon, domain=[fx(x0), fx(x1)], range=[-6, 6], tickvals=x_ticks,
        ticklabelstandoff=-6, anchor=ya,
        title=dict(text="Energy (eV)", font=dict(family=FONT, size=14, color="#222"), standoff=0))
    layout["yaxis" if n == 1 else f"yaxis{n}"] = dict(
        axcommon, domain=[fy(y1), fy(y0)], range=[0, p["yr"]], dtick=p["dt"], tick0=0,
        ticklabelstandoff=4, anchor=xa,
        title=dict(text=p["yt"], font=dict(family=FONT, size=14, color="#222"), standoff=3))
    # legend drawn as sample lines + labels
    lx0, lx1, lys = p["leg"]
    for (data, name, st), ly in zip(p["series"], lys):
        shapes.append(dict(type="line", xref="paper", yref="paper",
                           x0=fx(lx0), x1=fx(lx1), y0=fy(ly), y1=fy(ly), line=STY[st]))
        annotations.append(dict(xref="paper", yref="paper", x=fx(lx1 + 3), y=fy(ly),
                                xanchor="left", yanchor="middle", showarrow=False,
                                text=f"<b>{name}</b>", font=dict(family=FONT, size=11, color="#111")))
    cx, cy, pad, method = p["comp"]
    annotations.append(dict(xref="paper", yref="paper", x=fx(cx), y=fy(cy), xanchor="left",
                            yanchor="middle", align="left", showarrow=False,
                            text=f"<b>{compound}</b><br><b>{pad}{method}</b>",
                            font=dict(family=FONT, size=11, color="#111")))
    lbx, lby = p["lab"]
    annotations.append(dict(xref="paper", yref="paper", x=fx(lbx), y=fy(lby), xanchor="center",
                            yanchor="middle", showarrow=False, text=f"<b>{panel_letters[i]}</b>",
                            font=dict(family="Liberation Serif, Times New Roman, serif", size=13, color="#111")))

layout["shapes"] = shapes
layout["annotations"] = annotations
fig.update_layout(**layout)
fig.write_html("out.html", config={"displayModeBar": False},
               post_script="document.body.style.margin='0px';document.body.style.overflow='hidden';"
                           "document.documentElement.style.overflow='hidden';")
